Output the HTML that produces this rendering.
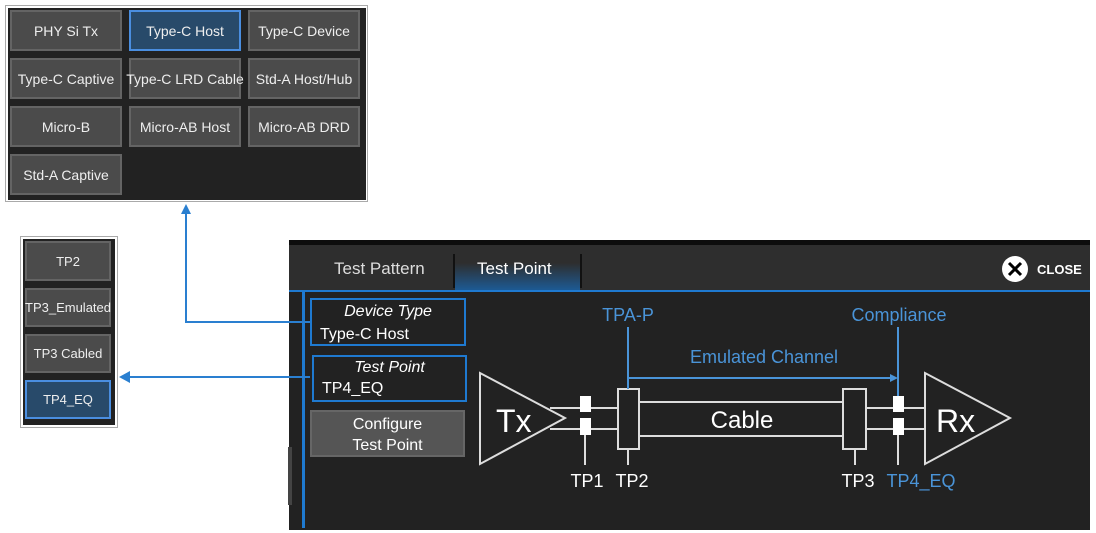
<!DOCTYPE html>
<html><head><meta charset="utf-8"><style>
body{margin:0;width:1096px;height:533px;background:#fff;position:relative;overflow:hidden;font-family:"Liberation Sans",sans-serif}
.a{position:absolute}
.btn{position:absolute;background:#4b4b4b;border:2px solid #646464;box-sizing:border-box;color:#eee;font-size:14px;display:flex;align-items:center;justify-content:center;white-space:nowrap}
.sel{background:#284a6a;border-color:#4a8ee0}
</style></head><body>
<div class="a" style="left:5px;top:5px;width:363px;height:197px;border:1px solid #aaa;box-sizing:border-box;background:#fff"></div>
<div class="a" style="left:8px;top:8px;width:358px;height:192px;background:#222"></div>
<div class="btn" style="left:10px;top:10px;width:112px;height:41px">PHY Si Tx</div>
<div class="btn sel" style="left:129px;top:10px;width:112px;height:41px">Type-C Host</div>
<div class="btn" style="left:248px;top:10px;width:112px;height:41px">Type-C Device</div>
<div class="btn" style="left:10px;top:58px;width:112px;height:41px">Type-C Captive</div>
<div class="btn" style="left:129px;top:58px;width:112px;height:41px">Type-C LRD Cable</div>
<div class="btn" style="left:248px;top:58px;width:112px;height:41px">Std-A Host/Hub</div>
<div class="btn" style="left:10px;top:106px;width:112px;height:41px">Micro-B</div>
<div class="btn" style="left:129px;top:106px;width:112px;height:41px">Micro-AB Host</div>
<div class="btn" style="left:248px;top:106px;width:112px;height:41px">Micro-AB DRD</div>
<div class="btn" style="left:10px;top:154px;width:112px;height:41px">Std-A Captive</div>

<div class="a" style="left:20px;top:236px;width:98px;height:192px;border:1px solid #aaa;box-sizing:border-box"></div>
<div class="a" style="left:23px;top:239px;width:92px;height:186px;background:#222"></div>
<div class="btn" style="left:25px;top:241px;width:86px;height:40px;font-size:13px">TP2</div>
<div class="btn" style="left:25px;top:288px;width:86px;height:39px;font-size:13px">TP3_Emulated</div>
<div class="btn" style="left:25px;top:334px;width:86px;height:39px;font-size:13px">TP3 Cabled</div>
<div class="btn sel" style="left:25px;top:380px;width:86px;height:39px;font-size:13px">TP4_EQ</div>

<div class="a" style="left:289px;top:240px;width:801px;height:290px;background:#222"></div>
<div class="a" style="left:289px;top:240px;width:801px;height:5px;background:#0d0d0d"></div>
<div class="a" style="left:289px;top:245px;width:801px;height:45px;background:#2e2e2e"></div>
<div class="a" style="left:455px;top:245px;width:125px;height:45px;background:linear-gradient(#2e2e2e 40%,#1d5a94)"></div>
<div class="a" style="left:453px;top:254px;width:2px;height:34px;background:#111"></div>
<div class="a" style="left:580px;top:254px;width:2px;height:34px;background:#111"></div>
<div class="a" style="left:289px;top:290px;width:801px;height:2px;background:#1f7ad0"></div>
<div class="a" style="left:334px;top:259px;color:#ddd;font-size:17px">Test Pattern</div>
<div class="a" style="left:477px;top:259px;color:#fff;font-size:17px">Test Point</div>
<div class="a" style="left:1037px;top:262px;color:#fff;font-size:13px;font-weight:bold">CLOSE</div>
<div class="a" style="left:302px;top:292px;width:3px;height:236px;background:#1f7ad0"></div>
<div class="a" style="left:288px;top:447px;width:4px;height:58px;background:#444"></div>
<div class="a" style="left:310px;top:298px;width:156px;height:48px;border:2px solid #1f7ad0;box-sizing:border-box;color:#fff;line-height:23px"><div style="text-align:center;font-style:italic;font-size:16px">Device Type</div><div style="font-size:16px;margin-left:8px">Type-C Host</div></div>
<div class="a" style="left:312px;top:355px;width:155px;height:47px;border:2px solid #1f7ad0;box-sizing:border-box;color:#fff;line-height:21px"><div style="text-align:center;font-style:italic;font-size:16px">Test Point</div><div style="font-size:16px;margin-left:8px">TP4_EQ</div></div>
<div class="a" style="left:310px;top:410px;width:155px;height:47px;background:#555;border:2px solid #666;box-sizing:border-box;color:#fff;font-size:16px;text-align:center;line-height:21px;padding-top:2px">Configure<br>Test Point</div>

<svg class="a" style="left:0;top:0" width="1096" height="533">
<g fill="none" stroke="#2a7fd0" stroke-width="2">
<polyline points="310,322 186,322 186,212"/>
<line x1="310" y1="377" x2="128" y2="377"/>
</g>
<polygon points="186,204 181,214 191,214" fill="#2a7fd0"/>
<polygon points="119,377 130,371 130,383" fill="#2a7fd0"/>
<circle cx="1015" cy="269" r="13" fill="#fff"/>
<path d="M1009,263 L1021,275 M1021,263 L1009,275" stroke="#000" stroke-width="3"/>
<g stroke="#ddd" stroke-width="2" fill="none">
<polygon points="480,373 480,464 565,418"/>
<polygon points="925,373 925,464 1010,418"/>
<line x1="550" y1="408" x2="618" y2="408"/><line x1="550" y1="429" x2="618" y2="429"/>
<line x1="639" y1="402" x2="843" y2="402"/><line x1="639" y1="436" x2="843" y2="436"/>
<line x1="866" y1="408" x2="925" y2="408"/><line x1="866" y1="429" x2="925" y2="429"/>
<rect x="618" y="389" width="21" height="60" fill="#222"/>
<rect x="843" y="389" width="23" height="60" fill="#222"/>
<line x1="585" y1="435" x2="585" y2="465"/><line x1="628" y1="449" x2="628" y2="465"/>
<line x1="855" y1="449" x2="855" y2="465"/><line x1="898" y1="435" x2="898" y2="465"/>
</g>
<g fill="#fff"><rect x="580" y="396" width="11" height="16"/><rect x="580" y="418" width="11" height="17"/>
<rect x="893" y="396" width="11" height="16"/><rect x="893" y="418" width="11" height="17"/></g>
<g stroke="#4a94d8" stroke-width="2" fill="none">
<line x1="628" y1="327" x2="628" y2="389"/><line x1="628" y1="378" x2="892" y2="378"/>
<line x1="898" y1="327" x2="898" y2="396"/></g>
<polygon points="898,378 890,374 890,382" fill="#4a94d8"/>
<g font-family="Liberation Sans,sans-serif">
<text x="496" y="432" fill="#fff" font-size="32">Tx</text>
<text x="936" y="432" fill="#fff" font-size="32">Rx</text>
<text x="742" y="428" fill="#fff" font-size="24" text-anchor="middle">Cable</text>
<text x="628" y="321" fill="#4a94d8" font-size="18" text-anchor="middle">TPA-P</text>
<text x="899" y="321" fill="#4a94d8" font-size="18" text-anchor="middle">Compliance</text>
<text x="764" y="363" fill="#4a94d8" font-size="18" text-anchor="middle">Emulated Channel</text>
<text x="587" y="487" fill="#fff" font-size="18" text-anchor="middle">TP1</text>
<text x="632" y="487" fill="#fff" font-size="18" text-anchor="middle">TP2</text>
<text x="858" y="487" fill="#fff" font-size="18" text-anchor="middle">TP3</text>
<text x="921" y="487" fill="#4a94d8" font-size="18" text-anchor="middle">TP4_EQ</text>
</g>
</svg>
</body></html>
